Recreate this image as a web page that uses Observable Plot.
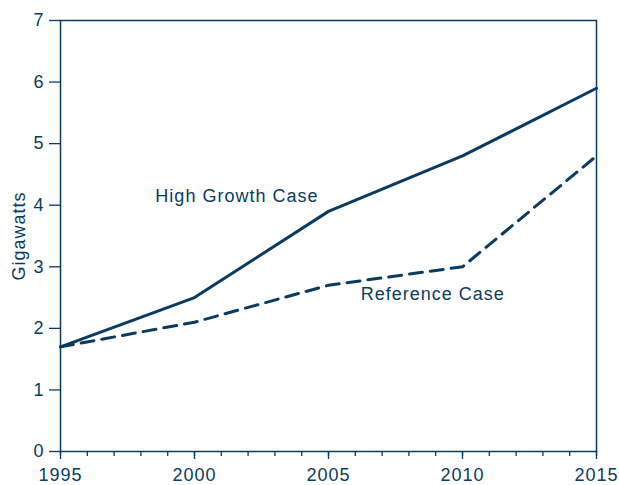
<!DOCTYPE html>
<html><head><meta charset="utf-8">
<script src="https://cdn.jsdelivr.net/npm/d3@7"></script>
<script src="https://cdn.jsdelivr.net/npm/@observablehq/plot@0.6"></script>
<style>body{margin:0;background:#fff;} svg{display:block;} svg text{letter-spacing:1px;}</style>
</head><body><div id="chart"></div>
<script>
const years = [1995, 2000, 2005, 2010, 2015];
const highGrowth = [1.7, 2.5, 3.9, 4.8, 5.9];
const reference = [1.7, 2.1, 2.7, 3.0, 4.8];
const yTicks = [0, 1, 2, 3, 4, 5, 6, 7];
const majorX = [1995, 2000, 2005, 2010, 2015];
const minorX = d3.range(1995, 2016);
const labels = [
  {year: 1998.54, value: 4.14, text: "High Growth Case"},
  {year: 2006.2, value: 2.55, text: "Reference Case"}
];
const color = "#0b3b61";
const hg = years.map((y, i) => ({year: y, value: highGrowth[i]}));
const rf = years.map((y, i) => ({year: y, value: reference[i]}));

const chart = Plot.plot({
  width: 619, height: 485,
  marginLeft: 60, marginRight: 23, marginTop: 20, marginBottom: 34,
  style: {fontFamily: "Liberation Sans, Arial, sans-serif", fontSize: "18px", color: color, background: "white"},
  x: {domain: [1995, 2015]},
  y: {domain: [0, 7]},
  marks: [
    Plot.frame({stroke: color, strokeWidth: 1.5}),
    Plot.axisY({ticks: yTicks, tickSize: 11, tickPadding: 5, tickFormat: d => String(d), stroke: color, fill: color, strokeWidth: 1.3, label: null, fontSize: 18}),
    Plot.text(["Gigawatts"], {frameAnchor: "left", dx: -41, rotate: -90, fill: color, fontSize: 18, textAnchor: "middle"}),
    Plot.axisX({ticks: minorX, tickSize: 5, tickFormat: () => "", stroke: color, strokeWidth: 1.3, label: null}),
    Plot.axisX({ticks: majorX, tickSize: 8, tickFormat: () => "", stroke: color, strokeWidth: 1.3, label: null}),
    Plot.text(majorX, {x: d => d, frameAnchor: "bottom", lineAnchor: "middle", dy: 24, text: d => String(d), fill: color, fontSize: 18}),
    Plot.line(hg, {x: "year", y: "value", stroke: color, strokeWidth: 3}),
    Plot.line(rf, {x: "year", y: "value", stroke: color, strokeWidth: 3, strokeDasharray: "13,8"}),
    Plot.text(labels, {x: "year", y: "value", text: "text", fill: color, fontSize: 18, textAnchor: "start"})
  ]
});
document.getElementById("chart").appendChild(chart);
</script></body></html>
